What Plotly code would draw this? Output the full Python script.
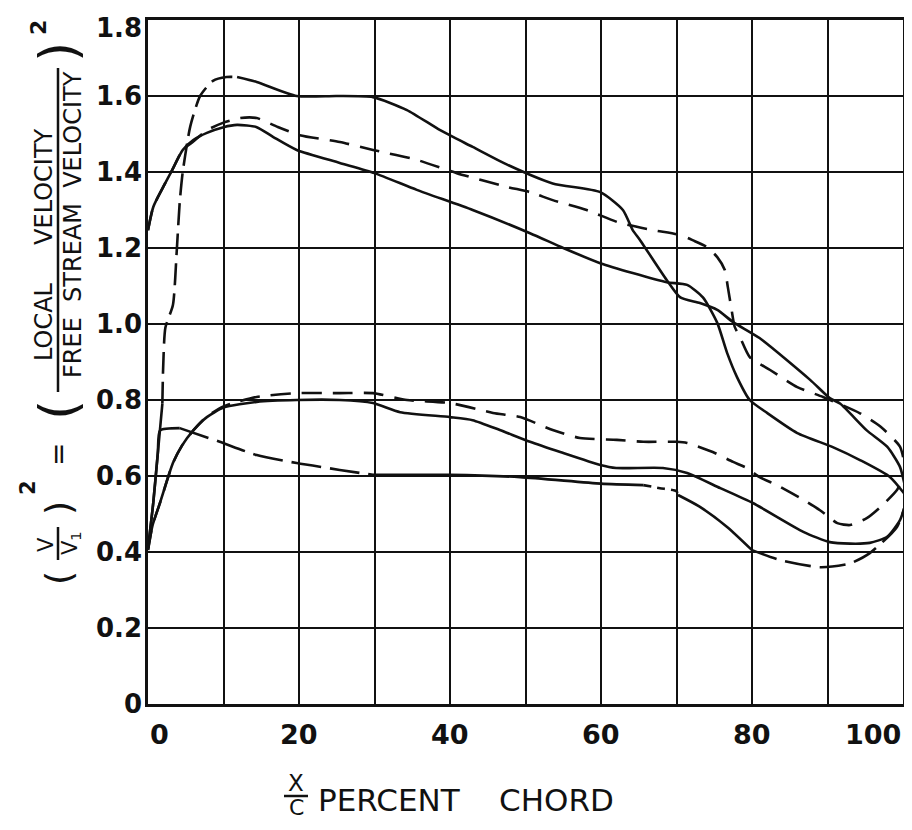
import plotly.graph_objects as go

# ---------------- data ----------------
# Loop A (long-dash curve pair)
a_upper_x = [0, 0.7, 1.3, 1.9, 2.0, 2.3, 3.3, 3.8, 4.2, 4.6, 5.6, 6.9, 8.6, 10.4, 11.8, 14.4, 19.7, 25, 29.8,
             34.3, 38.7, 43, 47.5, 53.6, 59.9, 62.9, 64.2, 65.2, 68.7, 70.5, 73.1, 75.4, 77.5, 81, 87.7, 90.3,
             91.7, 95.2, 97.9, 99.6, 100.5]
a_upper_y = [0.41, 0.53, 0.66, 0.79, 0.88, 0.99, 1.05, 1.19, 1.32, 1.40, 1.52, 1.60, 1.64, 1.65, 1.65, 1.637,
             1.60, 1.60, 1.597, 1.563, 1.51, 1.466, 1.42, 1.37, 1.347, 1.30, 1.247, 1.22, 1.116, 1.07, 1.055,
             1.037, 1.005, 0.963, 0.853, 0.805, 0.79, 0.72, 0.677, 0.624, 0.55]
a_lower_x = [0, 0.7, 1.3, 1.6, 4.2, 9.5, 14.4, 19.7, 25.4, 29.8, 40, 49.3, 60, 65.6, 67.8, 70, 70.2, 73, 76.7,
             80, 83.7, 89, 93, 95.6, 99.2, 100.5]
a_lower_y = [0.41, 0.53, 0.66, 0.72, 0.726, 0.69, 0.655, 0.634, 0.616, 0.603, 0.603, 0.597, 0.58, 0.576, 0.568,
             0.56, 0.55, 0.52, 0.466, 0.405, 0.379, 0.36, 0.37, 0.397, 0.466, 0.537]

# Loop B (short-dash curve pair)
b_upper_x = [0, 0.7, 2, 3.2, 4.6, 6, 7.8, 10, 12.2, 14.4, 17, 20.1, 25.4, 29.8, 35.6, 40.9, 47.5, 50.6, 53.6,
             58.1, 62.5, 66.9, 70.5, 72.2, 74, 75.4, 76.4, 76.8, 77.3, 77.7, 78.4, 79.7, 82.4, 86, 89.4, 94.3,
             97, 99.6, 100.4]
b_upper_y = [1.247, 1.308, 1.36, 1.405, 1.458, 1.48, 1.51, 1.53, 1.542, 1.542, 1.52, 1.497, 1.479, 1.458,
             1.432, 1.397, 1.361, 1.347, 1.326, 1.30, 1.266, 1.247, 1.234, 1.22, 1.203, 1.176, 1.142, 1.097,
             1.037, 0.993, 0.966, 0.913, 0.879, 0.834, 0.808, 0.765, 0.73, 0.677, 0.61]
b_lower_x = [0, 0.6, 1.6, 3.3, 4.5, 6, 7.8, 10, 11.3, 14.4, 19.7, 25.4, 29.8, 34.3, 40, 45.7, 49.3, 53.6,
             57.2, 62.1, 65.6, 70, 71.4, 74.8, 77.5, 79.3, 81, 83.3, 86.4, 89, 91.3, 93, 95.2, 97, 99.2, 100.4]
b_lower_y = [0.405, 0.47, 0.53, 0.634, 0.68, 0.72, 0.757, 0.783, 0.792, 0.808, 0.818, 0.818, 0.818, 0.80,
             0.792, 0.766, 0.755, 0.721, 0.70, 0.695, 0.69, 0.69, 0.687, 0.663, 0.637, 0.621, 0.597, 0.576,
             0.542, 0.51, 0.476, 0.471, 0.489, 0.518, 0.563, 0.61]

# Loop C (solid curve pair)
c_upper_x = [0, 0.7, 2, 3.2, 4.6, 6, 7.8, 10, 11.8, 14.4, 16.6, 19.7, 25.4, 30, 35.6, 43, 50.6, 55, 59.9, 64.2,
             68.7, 71.4, 73.5, 75.4, 76.7, 78, 79.7, 82, 86, 90.7, 94.3, 98.3, 100.5]
c_upper_y = [1.247, 1.308, 1.36, 1.405, 1.458, 1.484, 1.503, 1.518, 1.524, 1.518, 1.492, 1.458, 1.424, 1.397,
             1.353, 1.30, 1.239, 1.20, 1.16, 1.134, 1.11, 1.103, 1.07, 1.003, 0.924, 0.861, 0.80, 0.766, 0.713,
             0.676, 0.642, 0.597, 0.545]
c_lower_x = [0, 0.6, 1.6, 3.3, 4.5, 6, 7.8, 10, 14.4, 19.7, 25.4, 29.8, 33.4, 40, 43, 46.6, 50.6, 54.6, 59.9,
             62, 68.2, 71.4, 75.8, 80.1, 86.8, 90.3, 93, 95.6, 97.9, 99.6, 100.5]
c_lower_y = [0.405, 0.47, 0.53, 0.634, 0.68, 0.72, 0.755, 0.78, 0.795, 0.80, 0.80, 0.792, 0.768, 0.755, 0.747,
             0.721, 0.69, 0.663, 0.629, 0.621, 0.621, 0.608, 0.568, 0.529, 0.453, 0.426, 0.422, 0.424, 0.44,
             0.484, 0.537]

# line-style pieces of loop A: (x from, x to, dash)
a_upper_pieces = [(0, 1.9, "solid"), (1.9, 11.8, "22px,8px"), (11.8, 100.5, "solid")]
a_lower_pieces = [(0, 4.2, "solid"), (4.2, 29.8, "30px,9px"), (29.8, 65.6, "solid"),
                  (65.6, 70.2, "8px,6px"), (70.2, 80, "solid"), (80, 100.5, "26px,9px")]

x_tick_vals = [0, 20, 40, 60, 80, 100]
x_tick_text = ["0", "20", "40", "60", "80", "100"]
y_tick_vals = [0, 0.2, 0.4, 0.6, 0.8, 1.0, 1.2, 1.4, 1.6, 1.8]
y_tick_text = ["0", "0.2", "0.4", "0.6", "0.8", "1.0", "1.2", "1.4", "1.6", "1.8"]

INK = "#111111"
LW = 2.6
FONT = "DejaVu Sans"

fig = go.Figure()


def add_line(xs, ys, dash):
    fig.add_trace(go.Scatter(x=xs, y=ys, mode="lines", line=dict(color=INK, width=LW, dash=dash, shape="spline",
                                                                     smoothing=0.6),
                             showlegend=False, hoverinfo="skip"))


def add_pieces(xs, ys, pieces):
    for x0, x1, dash in pieces:
        px = [x for x in xs if x0 <= x <= x1]
        py = [y for x, y in zip(xs, ys) if x0 <= x <= x1]
        add_line(px, py, dash)


add_line(c_upper_x, c_upper_y, "solid")
add_line(c_lower_x, c_lower_y, "solid")
add_line(b_upper_x, b_upper_y, "20px,11px")
add_line(b_lower_x, b_lower_y, "20px,11px")
add_pieces(a_upper_x, a_upper_y, a_upper_pieces)
add_pieces(a_lower_x, a_lower_y, a_lower_pieces)

# The page body has an 8px margin, so the figure is drawn 8px in from the window corner.
OFF = 8
W, H = 912 - 2 * OFF, 830 - 2 * OFF
# plot area, in window pixels
PL, PR, PT, PB = 148, 903, 20, 704
L, T = PL - OFF, PT - OFF
R, B = W - (PR - OFF), H - (PB - OFF)
PW, PH = PR - PL, PB - PT


def px_x(p):
    return (p - PL) / PW


def px_y(p):
    return (PB - p) / PH


def txt(x, y, text, size, angle=0, anchor="center", bold=False):
    t = "<b>" + text + "</b>" if bold else text
    return dict(x=px_x(x), y=px_y(y), xref="paper", yref="paper", text=t, showarrow=False,
                xanchor=anchor, yanchor="middle", textangle=angle,
                font=dict(family=FONT, size=size, color=INK))


annotations = []
# x tick labels
for v, t in zip(x_tick_vals, x_tick_text):
    anchor = "center"
    if v == 0:
        anchor = "left"
    elif v == 100:
        anchor = "right"
    annotations.append(dict(x=v, y=0, xref="x", yref="paper", text="<b>" + t + "</b>", showarrow=False,
                            xanchor=anchor, yanchor="middle", yshift=-30,
                            font=dict(family=FONT, size=27, color=INK)))

# y tick labels (the top one sits a little below its grid line, as in the reference)
for v, t in zip(y_tick_vals, y_tick_text):
    annotations.append(dict(x=0, y=v, xref="paper", yref="y", text="<b>" + t + "</b>", showarrow=False,
                            xanchor="right", yanchor="middle", xshift=-4,
                            yshift=-8 if v == max(y_tick_vals) else 0,
                            font=dict(family=FONT, size=26, color=INK)))

# x title: X over C, then PERCENT CHORD
annotations += [
    txt(296, 783, "X", 23),
    txt(296, 808, "C", 22),
    txt(316, 800, "PERCENT&nbsp;&nbsp;&nbsp;&nbsp;CHORD", 31, anchor="left"),
]

# y title (rotated pieces)
CX = 58
annotations += [
    txt(CX, 578, "(", 36, -90),
    txt(CX - 12, 545, "V", 21, -90),
    txt(CX + 13, 543, "V<sub>1</sub>", 21, -90),
    txt(CX, 508, ")", 36, -90),
    txt(CX - 30, 488, "2", 21, -90, bold=True),
    txt(CX, 455, "=", 28, -90),
    txt(CX, 410, "(", 52, -90),
    txt(CX - 14, 245, "LOCAL&nbsp;&nbsp;&nbsp;&nbsp;&nbsp;VELOCITY", 24, -90),
    txt(CX + 15, 225, "FREE&nbsp;&nbsp;STREAM&nbsp;&nbsp;VELOCITY", 24, -90),
    txt(CX, 52, ")", 52, -90),
    txt(CX - 20, 28, "2", 22, -90, bold=True),
]

shapes = [
    dict(type="line", xref="paper", yref="paper", x0=px_x(CX), x1=px_x(CX), y0=px_y(68), y1=px_y(392),
         line=dict(color=INK, width=2.5)),
    dict(type="line", xref="paper", yref="paper", x0=px_x(CX), x1=px_x(CX), y0=px_y(527), y1=px_y(560),
         line=dict(color=INK, width=2.5)),
    dict(type="line", xref="paper", yref="paper", x0=px_x(284), x1=px_x(308), y0=px_y(796), y1=px_y(796),
         line=dict(color=INK, width=2.5)),
]

fig.update_layout(
    width=W, height=H,
    margin=dict(l=L, r=R, t=T, b=B, pad=0, autoexpand=False),
    paper_bgcolor="white", plot_bgcolor="white",
    annotations=annotations, shapes=shapes,
    xaxis=dict(range=[0, 100], dtick=10, tick0=0, showgrid=True, gridcolor=INK, gridwidth=2,
               showline=True, mirror=True, linecolor=INK, linewidth=3, zeroline=False,
               showticklabels=False, ticks="", automargin=False),
    yaxis=dict(range=[0, 1.8], tickvals=y_tick_vals, showticklabels=False,
               showgrid=True, gridcolor=INK, automargin=False,
               gridwidth=2, showline=True, mirror=True, linecolor=INK, linewidth=3, zeroline=False,
               ticks=""),
)

fig.write_html("out.html")
